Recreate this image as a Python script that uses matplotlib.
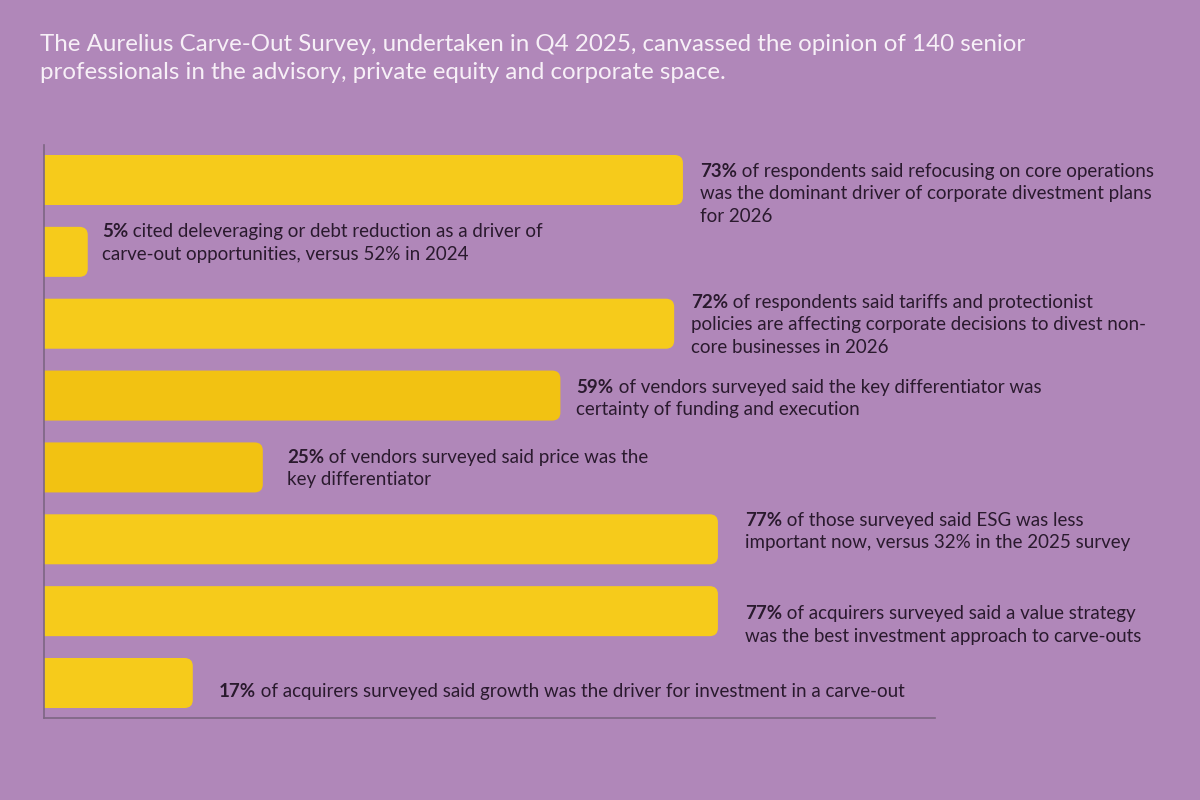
import matplotlib.pyplot as plt
from matplotlib.patches import FancyBboxPatch
from matplotlib.transforms import offset_copy

plt.rcParams['font.family'] = ['Lato', 'DejaVu Sans']

# data
values = [73, 5, 72, 59, 25, 77, 77, 17]
captions = [
    " of respondents said refocusing on core operations\nwas the dominant driver of corporate divestment plans\nfor 2026",
    " cited deleveraging or debt reduction as a driver of\ncarve-out opportunities, versus 52% in 2024",
    " of respondents said tariffs and protectionist\npolicies are affecting corporate decisions to divest non-\ncore businesses in 2026",
    " of vendors surveyed said the key differentiator was\ncertainty of funding and execution",
    " of vendors surveyed said price was the\nkey differentiator",
    " of those surveyed said ESG was less\nimportant now, versus 32% in the 2025 survey",
    " of acquirers surveyed said a value strategy\nwas the best investment approach to carve-outs",
    " of acquirers surveyed said growth was the driver for investment in a carve-out",
]
title = ("The Aurelius Carve-Out Survey, undertaken in Q4 2025, canvassed the opinion of 140 senior\n"
         "professionals in the advisory, private equity and corporate space.")

# styling
bg = '#B087B9'
bar_colors = ['#F6CB1B', '#F6CB1B', '#F6CB1B', '#F2C212', '#F2C212', '#F6CB1B', '#F6CB1B', '#F6CB1B']
txt_col = '#2A1A2E'
pads = [17, 14, 17, 16, 24, 27, 27, 26]        # px gap between bar end and caption
shifts = [13, -10, 0, 2, 0, -9, 13, 7]          # px shift of caption block (down)
line_h = 22.5

fig = plt.figure(figsize=(12, 8), dpi=100, facecolor=bg)
ax = fig.add_axes([44 / 1200, 1 - 718 / 800, (935 - 44) / 1200, (718 - 145) / 800])
ax.set_facecolor(bg)
ax.set_xlim(0, 101.8)
ax.set_ylim(len(values) - 1 + 0.487, -0.487)

bar_h = 0.696
r = 0.95
for i, v in enumerate(values):
    p = FancyBboxPatch((-3, i - bar_h / 2), v + 3, bar_h,
                       boxstyle=f"round,pad=0,rounding_size={r}",
                       mutation_aspect=0.118, fc=bar_colors[i], ec='none',
                       clip_on=True)
    ax.add_patch(p)

for s in ['top', 'right']:
    ax.spines[s].set_visible(False)
for s in ['left', 'bottom']:
    ax.spines[s].set_color('#7D6683')
    ax.spines[s].set_linewidth(1.2)
ax.set_xticks([])
ax.set_yticks([])

fig.canvas.draw()
renderer = fig.canvas.get_renderer()
fs = 13.5
for i, v in enumerate(values):
    lines = captions[i].split('\n')
    n = len(lines)
    for k, line in enumerate(lines):
        ycen = shifts[i] - (n - 1) / 2 * line_h + k * line_h
        base = ycen + 6.5
        tr = offset_copy(ax.transData, fig=fig, x=pads[i], y=-base, units='dots')
        if k == 0:
            t = ax.text(v, i, f"{v}%", transform=tr, fontsize=fs, fontweight='bold',
                        color=txt_col, va='baseline', ha='left')
            w = t.get_window_extent(renderer).width
            tr2 = offset_copy(ax.transData, fig=fig, x=pads[i] + w, y=-base, units='dots')
            ax.text(v, i, line, transform=tr2, fontsize=fs, color=txt_col,
                    va='baseline', ha='left')
        else:
            ax.text(v, i, line, transform=tr, fontsize=fs, color=txt_col,
                    va='baseline', ha='left')

fig.text(40 / 1200, 1 - 34 / 800, title, fontsize=17.4, color='#F7F0F7',
         va='top', ha='left', linespacing=1.42)

fig.savefig('out.png', dpi=100, facecolor=bg)
